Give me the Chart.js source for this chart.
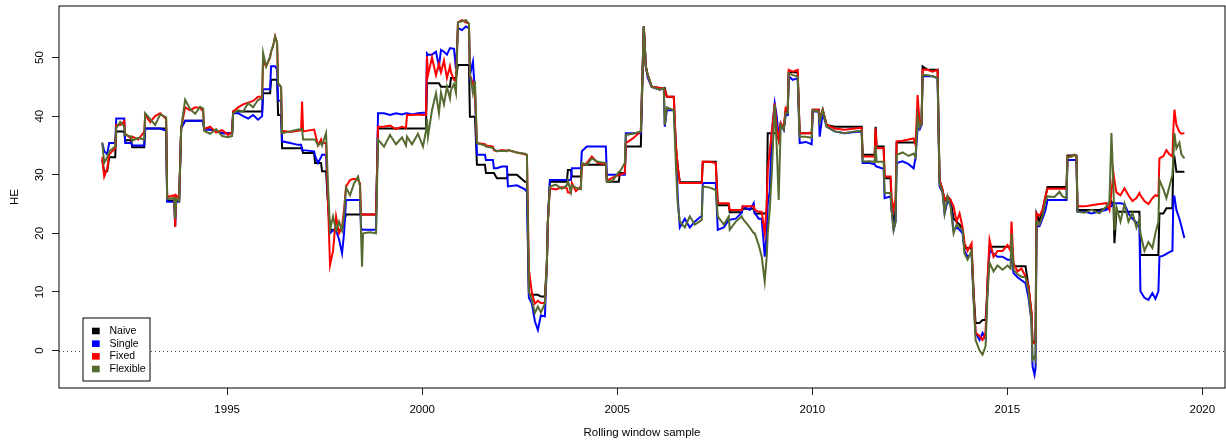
<!DOCTYPE html>
<html>
<head>
<meta charset="utf-8">
<script src="https://cdn.jsdelivr.net/npm/chart.js@4.4.1/dist/chart.umd.min.js"></script>
<style>
  html, body { margin: 0; padding: 0; background: #fff; }
  #wrap { width: 1226px; height: 446px; }
</style>
</head>
<body>
<div id="wrap"><canvas id="chart" width="1226" height="446"></canvas></div>
<script>
// rolling window end dates (decimal years)
const dates = [
  1991.798, 1991.849, 1991.926, 1991.977, 1992.131, 1992.157, 1992.259, 1992.362, 1992.387, 1992.541,
  1992.567, 1992.720, 1992.874, 1992.900, 1993.028, 1993.156, 1993.284, 1993.437, 1993.463, 1993.642,
  1993.668, 1993.694, 1993.770, 1993.822, 1993.924, 1994.052, 1994.180, 1994.308, 1994.385, 1994.411,
  1994.565, 1994.718, 1994.872, 1995.026, 1995.128, 1995.154, 1995.282, 1995.410, 1995.538, 1995.666,
  1995.794, 1995.897, 1995.922, 1995.999, 1996.101, 1996.127, 1996.178, 1996.230, 1996.281, 1996.306,
  1996.383, 1996.409, 1996.614, 1996.819, 1996.896, 1996.921, 1996.947, 1997.229, 1997.254, 1997.331,
  1997.408, 1997.433, 1997.536, 1997.587, 1997.638, 1997.715, 1997.792, 1997.869, 1997.946, 1997.997,
  1998.048, 1998.151, 1998.253, 1998.356, 1998.407, 1998.432, 1998.458, 1998.484, 1998.663, 1998.817,
  1998.868, 1999.022, 1999.175, 1999.329, 1999.483, 1999.585, 1999.611, 1999.739, 1999.892, 2000.021,
  2000.097, 2000.123, 2000.149, 2000.251, 2000.354, 2000.430, 2000.482, 2000.558, 2000.635, 2000.712,
  2000.738, 2000.815, 2000.866, 2000.917, 2001.020, 2001.122, 2001.199, 2001.224, 2001.301, 2001.353,
  2001.404, 2001.609, 2001.634, 2001.814, 2001.839, 2001.916, 2002.044, 2002.172, 2002.198, 2002.428,
  2002.633, 2002.685, 2002.736, 2002.813, 2002.889, 2002.966, 2003.043, 2003.146, 2003.197, 2003.222,
  2003.274, 2003.427, 2003.581, 2003.709, 2003.735, 2003.812, 2003.837, 2003.940, 2004.068, 2004.093,
  2004.221, 2004.349, 2004.503, 2004.708, 2004.734, 2004.887, 2005.041, 2005.067, 2005.195, 2005.220,
  2005.400, 2005.605, 2005.681, 2005.733, 2005.784, 2005.886, 2006.091, 2006.194, 2006.219, 2006.271,
  2006.450, 2006.501, 2006.552, 2006.604, 2006.732, 2006.860, 2006.988, 2007.167, 2007.193, 2007.372,
  2007.526, 2007.577, 2007.731, 2007.859, 2007.884, 2008.038, 2008.192, 2008.217, 2008.397, 2008.499,
  2008.525, 2008.627, 2008.704, 2008.781, 2008.832, 2008.858, 2008.909, 2008.960, 2009.037, 2009.088,
  2009.139, 2009.191, 2009.268, 2009.319, 2009.370, 2009.396, 2009.498, 2009.626, 2009.677, 2009.831,
  2009.985, 2010.010, 2010.164, 2010.190, 2010.267, 2010.369, 2010.574, 2010.830, 2011.086, 2011.266,
  2011.291, 2011.470, 2011.599, 2011.624, 2011.650, 2011.829, 2011.855, 2012.008, 2012.034, 2012.085,
  2012.136, 2012.162, 2012.316, 2012.469, 2012.598, 2012.649, 2012.700, 2012.751, 2012.802, 2012.828,
  2012.956, 2013.084, 2013.212, 2013.263, 2013.340, 2013.392, 2013.468, 2013.545, 2013.622, 2013.699,
  2013.776, 2013.853, 2013.904, 2013.981, 2014.083, 2014.134, 2014.186, 2014.288, 2014.365, 2014.442,
  2014.493, 2014.544, 2014.647, 2014.749, 2014.877, 2015.005, 2015.082, 2015.108, 2015.159, 2015.261,
  2015.364, 2015.466, 2015.543, 2015.620, 2015.646, 2015.697, 2015.723, 2015.748, 2015.825, 2015.902,
  2015.979, 2016.030, 2016.209, 2016.337, 2016.414, 2016.517, 2016.542, 2016.645, 2016.722, 2016.773,
  2016.798, 2016.978, 2017.157, 2017.362, 2017.541, 2017.618, 2017.669, 2017.721, 2017.746, 2017.797,
  2017.900, 2018.002, 2018.105, 2018.207, 2018.310, 2018.386, 2018.412, 2018.515, 2018.617, 2018.719,
  2018.796, 2018.873, 2018.899, 2019.001, 2019.078, 2019.155, 2019.232, 2019.257, 2019.283, 2019.334,
  2019.411, 2019.462, 2019.539
];

const naive = [
  32.5, 30.5, 30.6, 33, 33, 37.4, 37.4, 37.4, 35.9, 35.9,
  34.7, 34.7, 34.7, 37.9, 37.9, 37.9, 37.9, 37.9, 25.6, 25.6,
  25.6, 25.6, 25.6, 38, 39.2, 39.2, 39.2, 39.2, 39.2, 37.7,
  37.7, 37.4, 37.1, 37.1, 37.1, 40.8, 40.8, 40.8, 40.8, 40.8,
  40.8, 40.8, 43.9, 43.9, 43.9, 46.2, 46.2, 46.2, 46.2, 40.2,
  40.2, 34.5, 34.5, 34.5, 34.5, 34.5, 33.7, 33.7, 32, 32,
  32, 30.6, 30.6, 25, 20.6, 20.6, 20.6, 20.6, 20.6, 22,
  23.2, 23.2, 23.2, 23.2, 23.2, 23.2, 23.2, 23.2, 23.2, 23.2,
  37.9, 37.9, 37.9, 37.9, 37.9, 37.9, 37.9, 37.9, 37.9, 37.9,
  37.9, 45.6, 45.6, 45.6, 45.6, 45.6, 45, 45, 45, 45,
  46.5, 46.5, 46.5, 48.75, 48.75, 48.75, 48.75, 39.9, 39.9, 39.9,
  31.7, 31.7, 30.3, 30.3, 30.3, 29.4, 29.4, 29.4, 30, 30,
  28.8, 28.8, 9.5, 9.5, 9.5, 9.5, 9.2, 9.2, 15, 22,
  28.8, 28.8, 28.8, 28.8, 30.8, 30.8, 29.7, 29.7, 29.7, 31.7,
  31.7, 31.7, 31.7, 31.7, 28.8, 28.8, 28.8, 30.3, 30.3, 34.8,
  34.8, 34.8, 55.3, 48.5, 47, 45, 44.8, 44.8, 44.8, 43.3,
  43.3, 35, 31.4, 28.7, 28.7, 28.7, 28.7, 28.7, 32.2, 32.2,
  32.2, 24.8, 24.8, 24.8, 23.6, 23.6, 23.6, 24.2, 24.2, 24.2,
  23.4, 23.4, 23.4, 23.4, 23.6, 37.1, 37.1, 37.1, 37.1, 37.1,
  36, 38.5, 37.7, 41, 40.5, 47.5, 47.5, 47.5, 37.1, 37.1,
  37.1, 41.1, 41.1, 39.4, 41.1, 38.5, 38.2, 38.2, 38.2, 38.2,
  33.4, 33.4, 33.4, 38.2, 34.8, 34.8, 29.4, 29.4, 24, 22,
  24, 35.5, 35.5, 35.5, 35.5, 35.5, 40, 38.8, 38.8, 48.5,
  47.9, 47.9, 47.9, 29.1, 27.4, 25.5, 26.3, 25.7, 22.5, 22,
  21.5, 20.6, 17.5, 17.5, 17.5, 10, 4.7, 4.7, 5.2, 5.2,
  10, 17.7, 17.7, 17.7, 17.7, 17.7, 17.7, 17.7, 14.4, 14.4,
  14.4, 14.4, 10.9, 6.4, 1.5, 1.5, 1.5, 23.4, 22, 24,
  26.3, 27.9, 27.9, 27.9, 27.9, 27.9, 33.3, 33.3, 33.4, 33.3,
  24, 24, 24, 24, 24.3, 24.6, 25.4, 25, 18.3, 23.7,
  23.7, 23.7, 23.7, 23.7, 23.7, 23.7, 16.3, 16.3, 16.3, 16.3,
  16.3, 16.3, 23.4, 23.4, 24.3, 24.3, 24.3, 33.1, 33.1, 30.5,
  30.5, 30.5, 30.5
];

const single = [
  35.4, 34, 33.5, 35.4, 35.4, 39.6, 39.6, 39.6, 35.4, 35.4,
  35, 35, 35, 37.9, 37.9, 37.9, 37.9, 37.5, 25.4, 25.4,
  21.1, 25.4, 25.4, 38, 39.2, 39.2, 39.2, 39.2, 39.2, 37.7,
  37.7, 37.4, 37.1, 37.1, 37.1, 40.5, 40.5, 40, 39.6, 40.2,
  39.4, 40, 44.6, 44.6, 44.6, 48.5, 48.5, 48.5, 48, 42.8,
  42.5, 35.7, 35.4, 35.1, 35.1, 34.2, 34.2, 34, 33.2, 32,
  33, 33.4, 33.4, 25, 20, 20.5, 20.5, 19, 16.6, 20,
  25.7, 25.7, 25.7, 25.7, 25.7, 21, 20.6, 20.6, 20.6, 20.6,
  40.5, 40.5, 40.2, 40.5, 40.3, 40.5, 40.5, 40.3, 40.5, 40.6,
  40.6, 50.7, 50.5, 50.5, 51, 48.5, 51.3, 51, 50.5, 51.6,
  51.6, 51.5, 48, 55, 54.7, 55.3, 55, 47, 49.3, 44,
  33.4, 33.4, 32.5, 32.5, 31.1, 31.1, 31.4, 31.4, 28, 28.2,
  27.5, 27.1, 9, 8, 5, 3.5, 6, 5.8, 15, 22,
  29.1, 29.1, 29.1, 29.1, 29.1, 29.1, 31.1, 31.1, 31.1, 34,
  34.8, 34.8, 34.8, 34.8, 30, 30, 30, 30, 30, 37.1,
  37.1, 37.1, 55.3, 48.5, 46.5, 45, 44.5, 44.8, 38.2, 41,
  41, 35, 26, 21, 22.5, 21, 22, 23, 28.6, 28.6,
  28.6, 20.6, 21, 22.3, 22.3, 22.5, 23.5, 24.6, 24, 25.15,
  23.5, 22.5, 22.5, 16, 20, 25, 27.1, 37.1, 42.2, 40,
  36.5, 38.8, 37.7, 40.2, 40.2, 46.8, 46.2, 46.5, 35.4, 35.6,
  35.2, 40.8, 40.8, 36.5, 40.5, 38.2, 37.4, 37.1, 37.3, 37.4,
  32, 32, 31.8, 31.5, 31.4, 31, 26, 26.3, 24, 20.6,
  22, 32, 32.3, 31.8, 31.1, 33, 38, 37.7, 38.5, 46.8,
  46.8, 46.8, 46.5, 28, 27, 23.4, 25.5, 25, 20.5, 21,
  20.6, 20, 17, 16, 16.5, 9, 3, 1.8, 3, 2,
  12, 17.1, 16.5, 16, 16, 15.5, 15.5, 16, 13.2, 12.5,
  12, 11.5, 9, 5, -2.7, -4.15, -3, 21.2, 21.2, 22.5,
  24, 25.7, 25.7, 25.7, 25.7, 25.7, 32.5, 32.5, 32.5, 32.5,
  23.7, 23.7, 23.4, 23.7, 24, 24.6, 24.6, 25.15, 25.15, 25.15,
  25.15, 25, 23.4, 22.5, 21.8, 21.2, 10.1, 9, 8.65, 9.8,
  8.8, 10.1, 16, 16.2, 16.5, 16.8, 17, 26.3, 26.3, 24,
  22.5, 21.2, 19.2
];

const fixed = [
  33, 29.7, 31, 33.5, 34.5, 38.5, 38.5, 39.1, 37, 36.2,
  36.5, 36, 37.3, 40.2, 39, 40, 40.5, 39.5, 26.2, 26.5,
  21.1, 26.5, 26, 38, 41.5, 41, 41.5, 41.4, 40.8, 37.8,
  38.2, 37.2, 37.6, 36.8, 37.3, 40.8, 41.5, 42, 42.3, 42.6,
  43.3, 43.3, 49.5, 48.5, 50, 51, 52, 53.6, 52.5, 45.6,
  45, 37.5, 37.3, 37.5, 37.6, 42.5, 37.4, 37.7, 37.1, 35,
  36, 35.4, 35.4, 25, 14.6, 17, 22.9, 20, 21, 24,
  28, 29.1, 29.3, 29.1, 28.5, 23.2, 23.2, 23.2, 23.2, 23.2,
  38.2, 38.2, 38.4, 37.8, 38.2, 38, 40.2, 40.2, 40.3, 40.2,
  40.2, 50.2, 47, 50, 47, 49, 47.5, 49.5, 46.5, 48.5,
  47.5, 46.2, 46, 56, 56.4, 56, 55.8, 47, 45.6, 44,
  35.4, 35.2, 35, 34.8, 34.2, 34, 34.2, 34.1, 34.2, 33.8,
  33.5, 33.4, 13.8, 9.8, 8, 8.5, 8.1, 8.1, 15, 22,
  27.7, 27.5, 27.9, 27.7, 27, 26.9, 28.6, 27.2, 28, 31.5,
  32, 33.1, 32, 31.8, 29, 29.5, 30, 30, 30.3, 35.4,
  36.2, 37.4, 55.3, 48.5, 47, 45, 44.8, 44.8, 44.5, 43.3,
  43.3, 35.4, 31.4, 28.6, 28.6, 28.6, 28.6, 28.6, 32.2, 32.2,
  32, 25.15, 25.15, 25.15, 24, 24, 24, 24.6, 24.6, 24.6,
  24, 23.7, 23.7, 20, 25, 30.8, 34, 37.1, 42.2, 38,
  36, 38.8, 38, 41.4, 41, 47.9, 47.6, 47.9, 37.1, 37.1,
  37.1, 41.1, 41.1, 39.4, 41.1, 38.5, 37.9, 37.7, 37.9, 38,
  33.1, 33.1, 33.1, 37.9, 34.5, 34.5, 29.7, 29.7, 26, 24,
  26, 35.7, 35.8, 36, 36.2, 35, 43.6, 38.8, 38.8, 47.9,
  47.9, 47.6, 47.9, 29.1, 27.4, 25.7, 26.3, 25.7, 24.6, 22,
  23.4, 21, 18.3, 17, 18.3, 10, 3, 2.5, 1.8, 3,
  12, 18.9, 16, 17, 17, 18, 17, 22, 14.9, 13.5,
  14, 12.6, 11, 6.4, 1.25, 1.25, 1.5, 23.4, 23, 24,
  26.3, 27.6, 27.6, 27.6, 27.6, 27.6, 33.1, 33.1, 33.4, 33.1,
  24.6, 24.6, 24.8, 25, 25.15, 24, 27, 30.3, 29, 27,
  26.5, 27.7, 26.5, 25.5, 26, 26.9, 26.5, 25.5, 25, 26,
  26.5, 26.3, 32.8, 33.2, 34.2, 33.5, 33.1, 38, 41.1, 38.5,
  37.3, 37, 37.1
];

const flexible = [
  35.5, 32, 33, 34, 34.8, 38, 39, 38.2, 36.8, 36.5,
  35.8, 36.3, 36, 40.5, 39.5, 38.5, 40.3, 39.8, 25.9, 26,
  22.5, 26, 25.5, 38, 42.8, 41.2, 40.4, 41.6, 41.3, 37.5,
  37, 37.8, 36.6, 36.4, 36.6, 40.5, 41, 40.8, 42.2, 41.5,
  42.8, 43, 50.8, 48.5, 50.2, 51, 52, 53.6, 52.5, 45.6,
  45, 37.1, 37.4, 37.7, 37.7, 37.8, 36, 36, 36, 35,
  35.5, 35, 37.1, 28, 20.6, 22.9, 20.5, 22, 20.5, 23,
  27.8, 26.5, 28.5, 29.7, 28, 20, 14.3, 20, 20.2, 20,
  36, 34.8, 36.8, 35.2, 36.4, 35, 36.5, 35.2, 37, 34.8,
  37.5, 39.5, 36.5, 41, 43.9, 40.5, 44, 42, 45, 43,
  44.5, 45.5, 44, 56, 56.2, 56.4, 55.8, 47.3, 43.9, 46,
  35.4, 35, 34.8, 34.6, 34.3, 34, 34.1, 34, 34.2, 33.8,
  33.6, 33.4, 10, 8.6, 6.4, 7.5, 6.5, 8, 15, 22,
  28, 28.3, 27.6, 28.2, 29, 27, 28.2, 27.8, 27.5, 32,
  31.7, 32.8, 32.2, 32, 28.8, 29, 30.5, 30.5, 32, 36.8,
  37, 37.4, 55.3, 48.5, 47, 45, 44.5, 44.8, 38.5, 41.5,
  41, 32, 25, 22, 21, 22.9, 21.5, 22.3, 28, 27.8,
  27.4, 22.9, 21.5, 22.9, 20.6, 22, 22.9, 22.5, 21, 20,
  20, 18, 16, 11.8, 16, 20, 24, 30, 42, 35,
  25.7, 38.5, 37.7, 40.5, 40.5, 47.3, 47, 46.8, 36.5, 36.5,
  36.3, 41, 40.8, 39, 41, 38.2, 37.4, 37.1, 37.4, 37.5,
  32.25, 32.3, 32.2, 35, 32.2, 32.2, 26.9, 26.9, 24, 20.6,
  22, 33.4, 33.8, 33.2, 33.6, 33, 40, 38, 38.8, 47.05,
  47, 46.8, 46.5, 28.5, 27, 23.4, 26.3, 24.6, 20, 21.5,
  21, 20.6, 16.5, 15.5, 17, 9, 1.8, 0, -0.7, 0.7,
  10, 15, 13.5, 14.5, 13.8, 14.5, 14, 20, 13.8, 13,
  12.6, 12.5, 10, 5, -1.6, -1, -1.6, 22, 21.5, 23,
  25.5, 26.3, 26.2, 27.1, 26.3, 26, 33, 33.1, 33.4, 33.1,
  23.7, 23.5, 24, 23.4, 24.6, 25.5, 37.1, 28, 20.5, 24.5,
  22, 25, 22, 23.5, 21, 22.5, 20, 17, 18.5, 17.5,
  20, 22, 29.1, 27.5, 26, 28, 30, 33, 37.1, 34.5,
  35.5, 33.5, 32.8
];

const seriesNames = ['Naive', 'Single', 'Fixed', 'Flexible'];
const seriesColors = ['#000000', '#0000ff', '#ff0000', '#556b2f'];
const xTicks = [1995, 2000, 2005, 2010, 2015, 2020];
const yTicks = [0, 10, 20, 30, 40, 50];

const FONT = '"Liberation Sans", Arial, Helvetica, sans-serif';
const seriesValues = [naive, single, fixed, flexible];

const datasets = seriesValues.map((vals, i) => ({
  label: seriesNames[i],
  data: vals.map((v, j) => ({ x: dates[j], y: v })),
  borderColor: seriesColors[i],
  backgroundColor: seriesColors[i],
  borderWidth: 2,
  pointRadius: 0,
  tension: 0,
  fill: false,
  // flexible drawn last (on top), naive first
  order: seriesNames.length - i
}));

// R-like decorations: dotted zero line, box, rotated y labels, legend
const rStyle = {
  id: 'rStyle',
  beforeDatasetsDraw(chart) {
    const { ctx, chartArea: a, scales: { y } } = chart;
    const y0 = Math.round(y.getPixelForValue(0)) + 0.5;
    ctx.save();
    ctx.strokeStyle = '#444';
    ctx.lineWidth = 1;
    ctx.setLineDash([1, 3]);
    ctx.beginPath();
    ctx.moveTo(a.left, y0);
    ctx.lineTo(a.right, y0);
    ctx.stroke();
    ctx.restore();
  },
  afterDraw(chart) {
    const { ctx, chartArea: a, scales: { y } } = chart;
    ctx.save();
    ctx.strokeStyle = '#000';
    ctx.lineWidth = 1;
    ctx.strokeRect(a.left, a.top, a.right - a.left, a.bottom - a.top);

    ctx.fillStyle = '#000';
    ctx.font = '11.5px ' + FONT;
    ctx.textAlign = 'center';
    ctx.textBaseline = 'middle';
    yTicks.forEach(v => {
      const py = y.getPixelForValue(v);
      ctx.save();
      ctx.translate(a.left - 19, py);
      ctx.rotate(-Math.PI / 2);
      ctx.fillText(String(v), 0, 0);
      ctx.restore();
    });

    // legend box, bottom left
    const lx = a.left + 24, ly = a.bottom - 70, lw = 67, lh = 63;
    ctx.font = '10.5px ' + FONT;
    ctx.fillStyle = '#fff';
    ctx.fillRect(lx, ly, lw, lh);
    ctx.strokeStyle = '#000';
    ctx.strokeRect(lx, ly, lw, lh);
    ctx.textAlign = 'left';
    chart.data.datasets.forEach((ds, i) => {
      const cy = ly + 13 + i * 12.67;
      ctx.fillStyle = ds.borderColor;
      ctx.fillRect(lx + 9, cy - 3.3, 7.7, 6.6);
      ctx.fillStyle = '#000';
      ctx.fillText(ds.label, lx + 26.5, cy);
    });
    ctx.restore();
  }
};

new Chart(document.getElementById('chart').getContext('2d'), {
  type: 'line',
  data: { datasets },
  options: {
    responsive: false,
    animation: false,
    devicePixelRatio: 1,
    layout: { padding: { top: 6, right: 1, left: 0, bottom: 0 } },
    plugins: { legend: { display: false }, tooltip: { enabled: false } },
    scales: {
      x: {
        type: 'linear',
        min: 1990.69,
        max: 2020.58,
        afterBuildTicks: s => { s.ticks = xTicks.map(v => ({ value: v })); },
        afterFit: s => { s.height = 58; },
        grid: { drawOnChartArea: false, drawTicks: true, tickLength: 7, color: '#222' },
        border: { display: false },
        ticks: {
          color: '#000', padding: 7.5, maxRotation: 0, autoSkip: false,
          font: { family: FONT, size: 11.5 },
          callback: v => String(v)
        },
        title: {
          display: true, text: 'Rolling window sample', color: '#000',
          font: { family: FONT, size: 11.5 },
          padding: { top: 0, bottom: 6 }
        }
      },
      y: {
        type: 'linear',
        min: -6.4,
        max: 58.8,
        afterBuildTicks: s => { s.ticks = yTicks.map(v => ({ value: v })); },
        afterFit: s => { s.width = 59; },
        grid: { drawOnChartArea: false, drawTicks: true, tickLength: 7, color: '#222' },
        border: { display: false },
        ticks: { display: false },
        title: {
          display: true, text: 'HE', color: '#000',
          font: { family: FONT, size: 11.5 },
          padding: { top: 8.1, bottom: 0 }
        }
      }
    }
  },
  plugins: [rStyle]
});
</script>
</body>
</html>
